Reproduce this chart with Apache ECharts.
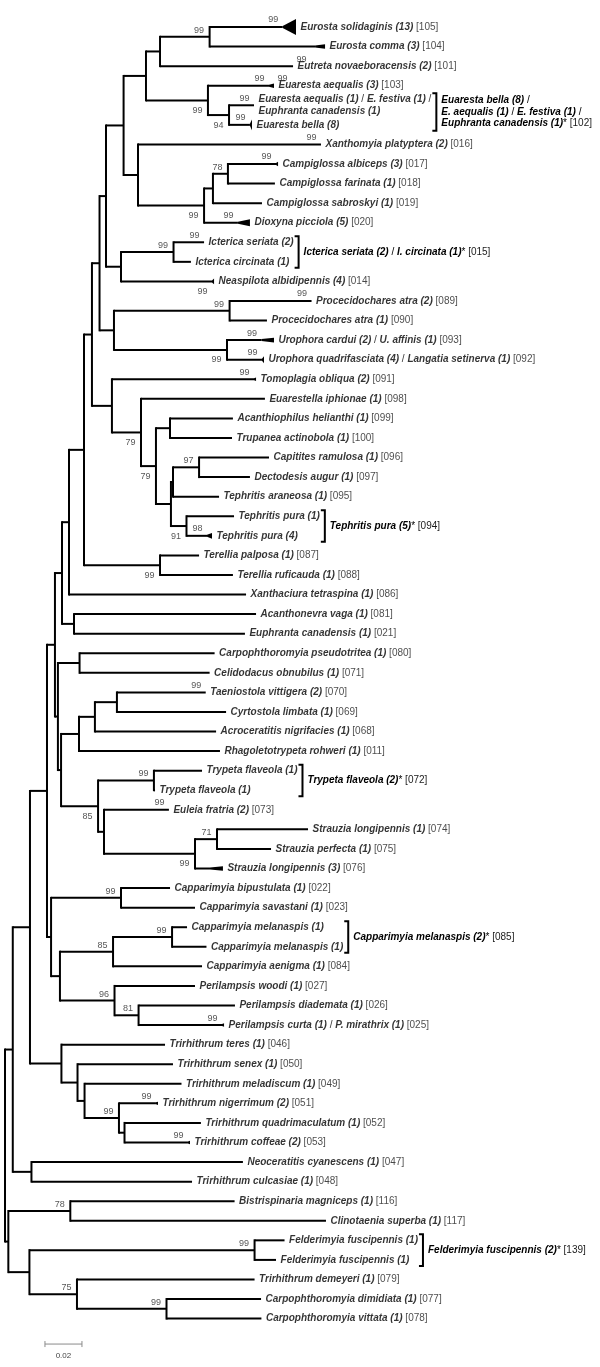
<!DOCTYPE html>
<html><head><meta charset="utf-8">
<script src="https://cdn.jsdelivr.net/npm/echarts@6/dist/echarts.min.js"></script>
<style>html,body{margin:0;padding:0;background:#fff}#c{width:600px;height:1367px}</style>
</head><body><div id="c"></div>
<script>
// ---------------- DATA ----------------
const leafNames = [
"Eurosta solidaginis (13)","Eurosta comma (3)","Eutreta novaeboracensis (2)","Euaresta aequalis (3)",
"Euaresta aequalis (1) / E. festiva (1) /\nEuphranta canadensis (1)","Euaresta bella (8)",
"Xanthomyia platyptera (2)","Campiglossa albiceps (3)","Campiglossa farinata (1)","Campiglossa sabroskyi (1)",
"Dioxyna picciola (5)","Icterica seriata (2)","Icterica circinata (1)","Neaspilota albidipennis (4)",
"Procecidochares atra (2)","Procecidochares atra (1)","Urophora cardui (2) / U. affinis (1)",
"Urophora quadrifasciata (4) / Langatia setinerva (1)","Tomoplagia obliqua (2)","Euarestella iphionae (1)",
"Acanthiophilus helianthi (1)","Trupanea actinobola (1)","Capitites ramulosa (1)","Dectodesis augur (1)",
"Tephritis araneosa (1)","Tephritis pura (1)","Tephritis pura (4)","Terellia palposa (1)","Terellia ruficauda (1)",
"Xanthaciura tetraspina (1)","Acanthonevra vaga (1)","Euphranta canadensis (1)","Carpophthoromyia pseudotritea (1)",
"Celidodacus obnubilus (1)","Taeniostola vittigera (2)","Cyrtostola limbata (1)","Acroceratitis nigrifacies (1)",
"Rhagoletotrypeta rohweri (1)","Trypeta flaveola (1)","Trypeta flaveola (1)","Euleia fratria (2)",
"Strauzia longipennis (1)","Strauzia perfecta (1)","Strauzia longipennis (3)","Capparimyia bipustulata (1)",
"Capparimyia savastani (1)","Capparimyia melanaspis (1)","Capparimyia melanaspis (1)","Capparimyia aenigma (1)",
"Perilampsis woodi (1)","Perilampsis diademata (1)","Perilampsis curta (1) / P. mirathrix (1)",
"Trirhithrum teres (1)","Trirhithrum senex (1)","Trirhithrum meladiscum (1)","Trirhithrum nigerrimum (2)",
"Trirhithrum quadrimaculatum (1)","Trirhithrum coffeae (2)","Neoceratitis cyanescens (1)","Trirhithrum culcasiae (1)",
"Bistrispinaria magniceps (1)","Clinotaenia superba (1)","Felderimyia fuscipennis (1)","Felderimyia fuscipennis (1)",
"Trirhithrum demeyeri (1)","Carpophthoromyia dimidiata (1)","Carpophthoromyia vittata (1)"
];
const leafIds = ["[105]","[104]","[101]","[103]","","","[016]","[017]","[018]","[019]","[020]","","","[014]",
"[089]","[090]","[093]","[092]","[091]","[098]","[099]","[100]","[096]","[097]","[095]","","","[087]","[088]",
"[086]","[081]","[021]","[080]","[071]","[070]","[069]","[068]","[011]","","","[073]","[074]","[075]","[076]",
"[022]","[023]","","","[084]","[027]","[026]","[025]","[046]","[050]","[049]","[051]","[052]","[053]","[047]",
"[048]","[116]","[117]","","","[079]","[077]","[078]"];
const leafParent = ["E1","E1","E2","Eu1","Eu2","Eu2","B1","C1","C1","C2","C3","IC1","IC1","IC0","P1","P1","U1","U1",
"T0","T1","AT","AT","CD","CD","T3b","TP","TP","TE","TE","AE","AV","AV","CP","CP","TC","TC","TCA","TCR","TF","TF",
"EFS","St2","St2","St","CBS","CBS","CMel","CMel","CM","PE","PE2","PE2","TR","TR2","TR3","TR4","TR5","TR5","NT","NT",
"BC","BC","FF","FF","DC","DC2","DC2"];
// distance from root to the tip (start of the collapsed triangle if any)
const leafDepth = [0.1501,0.1676,0.1557,0.1427,0.1346,0.1324,0.1708,0.1465,0.1459,0.1389,0.1259,0.1076,0.1005,
0.1119,0.1657,0.1416,0.1386,0.1389,0.1346,0.1405,0.1232,0.1227,0.1427,0.1324,0.1157,0.1238,0.1092,0.1049,0.1232,
0.1303,0.1357,0.1297,0.1133,0.1106,0.1085,0.1195,0.1141,0.1162,0.1065,0.0811,0.0886,0.1638,0.1438,0.1108,0.0892,
0.1027,0.0984,0.1089,0.1065,0.1027,0.1243,0.1173,0.0865,0.0908,0.0954,0.0816,0.1059,0.0989,0.1286,0.1011,0.1241,
0.1735,0.1511,0.1465,0.1349,0.1384,0.1386];
// farthest tip of a collapsed clade (null = single branch)
const leafCollapsedEnd = [0.1573,0.1730,null,0.1454,null,0.1335,null,0.1476,null,null,0.1324,null,null,0.1130,
null,null,0.1454,0.1400,0.1357,null,null,null,null,null,null,null,0.1119,null,null,null,null,null,null,null,null,
null,null,null,null,null,null,null,null,0.1178,null,null,null,null,null,null,null,0.1184,null,null,null,0.0827,
null,0.1000,null,null,null,null,null,null,null,null,null];

const nodeNames = ["root","N13","LG","N30","NT","AH","TR","AG","CAP","AF","N58","AE","AV","AD","AC","TE","AB","T0",
"AA","PU","A0","IC0","A1","B1","E2","Eu1","E1","Eu2","C3","C2","C1","IC1","P1","U1","T1","T2","AT","T3","T3b","CD",
"TP","N61","CP","TCR","TS","TCA","TC","TF","EFS","St","St2","CBS","CP2","CM","CMel","PE","PE2","TR2","TR3","TR4",
"TR5","BC","FC","FF","DC","DC2"];
const nodeParent = [null,"root","root","N13","N13","N30","N30","AH","AH","AG","AG","AF","AF","AE","AD","AD","AC","AC",
"AB","AB","AA","AA","A0","A0","A1","A1","E2","Eu1","B1","C3","C2","IC0","PU","PU","T0","T1","T2","T2","T3","T3b",
"T3","N58","N58","N61","N61","TCR","TCA","TS","TS","EFS","St","CAP","CAP","CP2","CM","CP2","PE","TR","TR2","TR3",
"TR4","LG","LG","FC","FC","DC"];
const nodeDepth = [0,0.0042,0.0018,0.0135,0.0143,0.0227,0.0305,0.0270,0.0249,0.0308,0.0286,0.0346,0.0373,0.0427,
0.0470,0.0838,0.0511,0.0578,0.0546,0.0589,0.0641,0.0627,0.0762,0.0719,0.0838,0.1097,0.1106,0.1211,0.1076,0.1124,
0.1205,0.0911,0.1214,0.1200,0.0735,0.0816,0.0892,0.0897,0.0908,0.1049,0.0981,0.0303,0.0403,0.0400,0.0503,0.0486,
0.0605,0.0805,0.0535,0.1027,0.1146,0.0627,0.0297,0.0584,0.0903,0.0592,0.0722,0.0392,0.0430,0.0616,0.0646,0.0353,
0.0132,0.1349,0.0389,0.0873];
// bootstrap support at internal nodes
const supportNode  = ["TE","Eu1","E1","Eu2","C3","C1","IC1","P1","U1","T1","T2","CD","TP","TS","TF","St","St2",
"CBS","CM","CMel","PE","PE2","TR4","BC","FF","DC","DC2"];
const supportValue = [99,99,99,94,99,78,99,99,99,79,79,97,91,85,99,99,71,99,85,99,96,81,99,78,99,75,99];
const supportSide  = ["B","B","A","B","B","A","A","A","B","B","B","A","B","B","A","B","A","A","A","A","A","A","A","A","A","A","A"];
// bootstrap support inside collapsed tips
const tipSupportLeaf  = [0,2,3,3,4,5,6,7,10,11,13,14,16,17,18,26,34,40,51,55,57];
const tipSupportValue = [99,99,99,99,99,99,99,99,99,99,99,99,99,99,99,98,99,99,99,99,99];
const tipSupportSide  = ["L","R","L","R","L","L","L","L","L","L","B","L","L","L","L","L","L","L","L","L","L"];
// bracketed groups
const groupFirst = [4,11,25,38,46,62];
const groupLast  = [5,12,26,39,47,63];
const groupLabels = ["Euaresta bella (8) /\nE. aequalis (1) / E. festiva (1) /\nEuphranta canadensis (1)*",
"Icterica seriata (2) / I. circinata (1)*","Tephritis pura (5)*","Trypeta flaveola (2)*",
"Capparimyia melanaspis (2)*","Felderimyia fuscipennis (2)*"];
const groupIds = ["[102]","[015]","[094]","[072]","[085]","[139]"];
const scaleBarValue = 0.02;
const scaleBarLabel = "0.02";

// ---------------- LAYOUT / STYLE ----------------
const FONT = '"Liberation Sans", Arial, Helvetica, sans-serif';
const FB = 'italic bold 10px ' + FONT;
const FN = 'normal 10px ' + FONT;
const LW = 2;
const LINE_H = 11.5;
const scaleBarAt = [0.0216, 67.3];

// ---------------- TREE GEOMETRY ----------------
const nIdx = {}; nodeNames.forEach((n,i)=>nIdx[n]=i);
const kids = {}; nodeNames.forEach(n=>kids[n]=[]);
leafParent.forEach((p,i)=>kids[p].push({leaf:i}));
nodeParent.forEach((p,i)=>{ if(p) kids[p].push({node:i}); });
const nodeY = {}, nodeMin = {}, nodeMax = {};
function yOfChild(c){ return c.leaf!==undefined ? c.leaf : nodeYof(nodeNames[c.node]); }
function nodeYof(name){
  if (nodeY[name]!==undefined) return nodeY[name];
  const ys = kids[name].map(yOfChild);
  nodeMin[name] = Math.min(...ys); nodeMax[name] = Math.max(...ys);
  nodeY[name] = (nodeMin[name]+nodeMax[name])/2;
  return nodeY[name];
}
nodeNames.forEach(nodeYof);

const branchData = [];
nodeNames.forEach((n,i)=>{
  const pd = nodeParent[i] ? nodeDepth[nIdx[nodeParent[i]]] : nodeDepth[i];
  branchData.push([nodeDepth[i], nodeY[n], pd, nodeMin[n], nodeMax[n]]);
});
leafNames.forEach((n,i)=>{
  branchData.push([leafDepth[i], i, nodeDepth[nIdx[leafParent[i]]], i, i]);
});
function countOf(name){ let s=0; (name.match(/\((\d+)\)/g)||[]).forEach(m=>s+=parseInt(m.slice(1))); return s; }
const triData = [];
leafNames.forEach((n,i)=>{ if(leafCollapsedEnd[i]!==null) triData.push([leafDepth[i], i, leafCollapsedEnd[i], countOf(n)]); });
const tipEnd = leafNames.map((n,i)=> leafCollapsedEnd[i]!==null ? leafCollapsedEnd[i] : leafDepth[i]);

function toRich(name, id){
  const lines = name.split('\n');
  return lines.map((ln,k)=>{
    let s = ln.replace(/[^\/*]+/g, m=>'{b|'+m+'}').replace(/\//g,'{s|/}').replace(/\*/g,'{s|*}');
    if (k===lines.length-1 && id) s += '{n| '+id+'}';
    return s;
  }).join('\n');
}
// split a label line into styled segments
function segments(line, id, isLast){
  const out=[];
  line.split(/([\/*])/).forEach(p=>{ if(p) out.push({t:p, bold: !(p==='/'||p==='*')}); });
  if (isLast && id) out.push({t:' '+id, bold:false, id:true});
  return out;
}
const mctx = document.createElement('canvas').getContext('2d');
function segW(t,bold){ mctx.font=bold?FB:FN; return mctx.measureText(t).width; }
function labelW(name,id){
  const lines = name.split('\n');
  return Math.max(...lines.map((ln,k)=>segments(ln,id,k===lines.length-1).reduce((w,s)=>w+segW(s.t,s.bold),0)));
}
const richE = {
  b:{fontStyle:'italic',fontWeight:'bold',fontSize:10,fontFamily:FONT,color:'#000',lineHeight:LINE_H},
  s:{fontWeight:'normal',fontSize:10,fontFamily:FONT,color:'#000',lineHeight:LINE_H},
  n:{fontWeight:'normal',fontSize:10,fontFamily:FONT,color:'#1a1a1a',lineHeight:LINE_H}
};
const LABEL_GAP = 4;

// ---------------- CHART ----------------
const chart = echarts.init(document.getElementById('c'), null, {renderer:'canvas'});
const supA = [], supB = [];
supportNode.forEach((n,k)=>{
  const i = nIdx[n];
  (supportSide[k]==='A'?supA:supB).push([nodeDepth[i], nodeY[n], supportValue[k]]);
});
const tipL=[], tipR=[], tipB=[];
tipSupportLeaf.forEach((l,k)=>{
  const s = tipSupportSide[k];
  if (s==='L') tipL.push([leafDepth[l], l, tipSupportValue[k]]);
  else if (s==='R') tipR.push([tipEnd[l], l, tipSupportValue[k]]);
  else tipB.push([leafDepth[l], l, tipSupportValue[k]]);
});
function supSeries(data, pos, dist, off){
  return {type:'scatter', data, symbolSize:1, itemStyle:{color:'rgba(0,0,0,0)'}, silent:true, z:5,
    label:{show:true, position:pos, distance:dist, offset:off, formatter:p=>String(p.value[2]),
      fontSize:9, fontFamily:FONT, color:'#2a2a2a'}};
}

chart.setOption({
  animation:false,
  backgroundColor:'#fff',
  grid:{left:5, right:0, top:0, bottom:0},
  xAxis:{type:'value', min:0, max:595/1850, show:false},
  yAxis:{type:'value', inverse:true, min:-27/19.57, max:(1367-27)/19.57, show:false},
  series:[
    {type:'custom', coordinateSystem:'cartesian2d', data:branchData, silent:true, z:2,
     renderItem:(params, api)=>{
       const d=api.value(0), y=api.value(1), pd=api.value(2), y0=api.value(3), y1=api.value(4);
       const ch=[];
       const a=api.coord([pd,y]), b=api.coord([d,y]);
       if (b[0]-a[0] > 0.05) ch.push({type:'line', shape:{x1:a[0],y1:a[1],x2:b[0],y2:b[1]}, style:{stroke:'#000',lineWidth:LW}});
       if (y1>y0){
         const t=api.coord([d,y0]), u=api.coord([d,y1]);
         ch.push({type:'line', shape:{x1:t[0],y1:t[1]-LW/2,x2:u[0],y2:u[1]+LW/2}, style:{stroke:'#000',lineWidth:LW}});
       }
       return {type:'group', children:ch};
     }},
    {type:'custom', coordinateSystem:'cartesian2d', data:triData, silent:true, z:3,
     renderItem:(params, api)=>{
       const a=api.coord([api.value(0),api.value(1)]), b=api.coord([api.value(2),api.value(1)]);
       const h=Math.min(8, 0.6*api.value(3)+0.5);
       return {type:'polygon', shape:{points:[[a[0],a[1]-LW/2],[b[0],b[1]-h],[b[0],b[1]+h],[a[0],a[1]+LW/2]]}, style:{fill:'#000'}};
     }},
    {type:'scatter', data:leafNames.map((n,i)=>[tipEnd[i], i]), symbolSize:1, itemStyle:{color:'rgba(0,0,0,0)'}, silent:true, z:4,
     label:{show:true, position:'right', distance:LABEL_GAP, formatter:p=>toRich(leafNames[p.dataIndex], leafIds[p.dataIndex]), rich:richE}},
    supSeries(supA,'left',5,[0,-6.5]),
    supSeries(supB,'left',5,[0,10]),
    supSeries(tipL,'left',4,[0,-7]),
    supSeries(tipR,'right',3,[0,-7]),
    supSeries(tipB,'left',4,[0,10]),
    {type:'custom', coordinateSystem:'cartesian2d', data:groupFirst.map((f,k)=>[f, groupLast[k], k]), silent:true, z:4,
     renderItem:(params, api)=>{
       const f=api.value(0), l=api.value(1), k=api.value(2);
       let maxX=0;
       for (let i=f;i<=l;i++){
         const p=api.coord([tipEnd[i], i]);
         maxX=Math.max(maxX, p[0]+0.5+LABEL_GAP+labelW(leafNames[i], leafIds[i]));
       }
       const bx=maxX+5;
       const topExtra=(leafNames[f].split('\n').length-1)*6, botExtra=(leafNames[l].split('\n').length-1)*6;
       const yt=api.coord([0,f])[1]-6-topExtra, yb=api.coord([0,l])[1]+6+botExtra;
       const ch=[{type:'polyline', shape:{points:[[bx-4,yt],[bx,yt],[bx,yb],[bx-4,yb]]}, style:{stroke:'#000',lineWidth:LW,fill:null}}];
       const lines=groupLabels[k].split('\n');
       const ym=(yt+yb)/2;
       lines.forEach((ln,li)=>{
         let x=bx+5;
         const yy=ym+(li-(lines.length-1)/2)*LINE_H;
         segments(ln, groupIds[k], li===lines.length-1).forEach(s=>{
           ch.push({type:'text', x:x, y:yy, style:{text:s.t, font:s.bold?FB:FN, fill:s.id?'#1a1a1a':'#000', align:'left', verticalAlign:'middle'}});
           x+=segW(s.t,s.bold);
         });
       });
       return {type:'group', children:ch};
     }},
    {type:'custom', coordinateSystem:'cartesian2d', data:[[scaleBarAt[0], scaleBarAt[1], scaleBarValue]], silent:true, z:4,
     renderItem:(params, api)=>{
       const a=api.coord([api.value(0),api.value(1)]), b=api.coord([api.value(0)+api.value(2),api.value(1)]);
       const st={stroke:'#8a8a8a',lineWidth:1};
       return {type:'group', children:[
         {type:'line', shape:{x1:a[0],y1:a[1],x2:b[0],y2:b[1]}, style:st},
         {type:'line', shape:{x1:a[0],y1:a[1]-3,x2:a[0],y2:a[1]+3}, style:st},
         {type:'line', shape:{x1:b[0],y1:b[1]-3,x2:b[0],y2:b[1]+3}, style:st},
         {type:'text', x:(a[0]+b[0])/2, y:a[1]+12, style:{text:scaleBarLabel, align:'center', verticalAlign:'middle', fill:'#444', font:'8px '+FONT}}
       ]};
     }}
  ]
});
</script></body></html>
